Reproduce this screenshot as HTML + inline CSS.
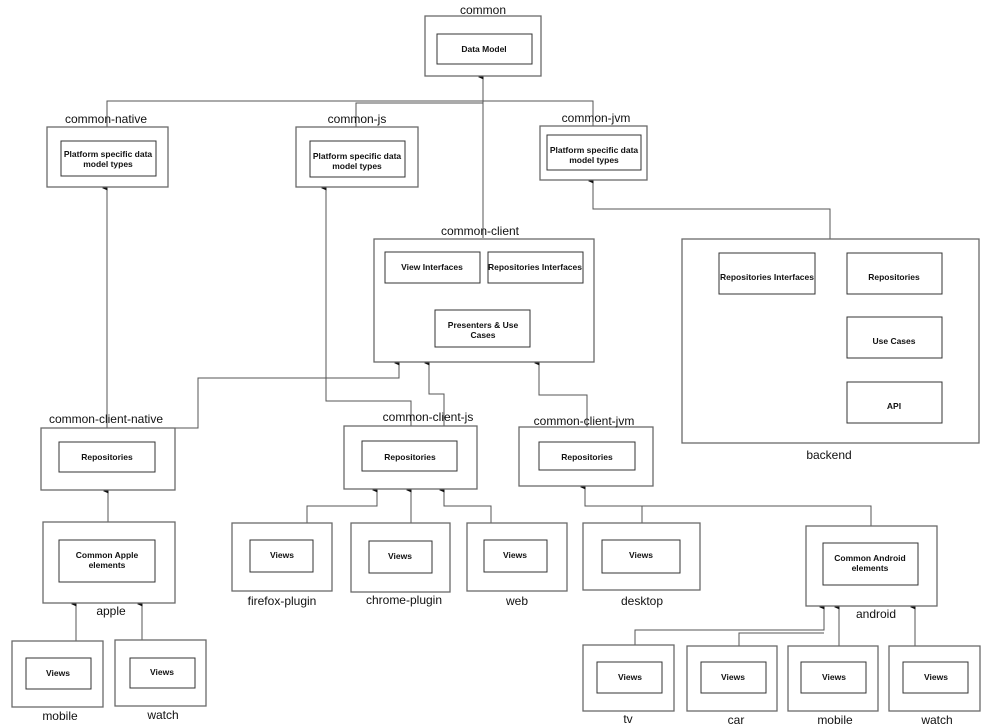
<!DOCTYPE html>
<html><head><meta charset="utf-8"><style>
html,body{margin:0;padding:0;background:#fff;}
svg{display:block;font-family:"Liberation Sans",sans-serif;}
.o{fill:#fff;stroke:#6a6a6a;stroke-width:1.3}
.i{fill:#fff;stroke:#333;stroke-width:1}
.l{fill:none;stroke:#555;stroke-width:1}
.t{font-size:12px;fill:#111;text-anchor:middle}
.b{font-size:8.5px;font-weight:bold;fill:#111;text-anchor:middle}
</style></head><body>
<svg width="1000" height="728" viewBox="0 0 1000 728">
<defs><marker id="a" markerWidth="6" markerHeight="6" refX="3" refY="5" orient="auto-start-reverse" viewBox="0 0 6 6"><path d="M0.5,5.5 L3,0 L5.5,5.5 Z" fill="#111"/></marker>
<marker id="r" markerWidth="6" markerHeight="6" refX="5" refY="3" orient="auto" viewBox="0 0 6 6"><path d="M0,0.5 L6,3 L0,5.5 Z" fill="#111"/></marker></defs>

<!-- connectors -->
<path class="l" d="M483,238 V77" marker-end="url(#a)"/>
<path class="l" d="M107,127 V101 H593 V126"/>
<path class="l" d="M356,127 V103 H483" stroke-width="1.6"/>
<path class="l" d="M107,428 V188" marker-end="url(#a)"/>
<path class="l" d="M411,426 V401 H326 V188" marker-end="url(#a)"/>
<path class="l" d="M830,239 V209 H593 V181" marker-end="url(#a)"/>
<path class="l" d="M175,428 H198 V378 H399 V363" marker-end="url(#a)"/>
<path class="l" d="M444,426 V394 H429 V363" marker-end="url(#a)"/>
<path class="l" d="M587,427 V395 H539 V363" marker-end="url(#a)"/>
<path class="l" d="M459,310 V298 H432 V284" marker-end="url(#a)"/>
<path class="l" d="M506,310 V298 H535 V284" marker-end="url(#a)"/>
<path class="l" d="M849,273 H816" marker-end="url(#r)"/>
<path class="l" d="M849,338 H767 V295" marker-end="url(#a)"/>
<path class="l" d="M896,382 V359" marker-end="url(#a)"/>
<path class="l" d="M108,522 V491" marker-end="url(#a)"/>
<path class="l" d="M76,641 V604" marker-end="url(#a)"/>
<path class="l" d="M142,640 V604" marker-end="url(#a)"/>
<path class="l" d="M307,523 V506 H377 V490" marker-end="url(#a)"/>
<path class="l" d="M411,523 V490" marker-end="url(#a)"/>
<path class="l" d="M491,523 V506 H444 V490" marker-end="url(#a)"/>
<path class="l" d="M642,523 V506 H585 V487" marker-end="url(#a)"/>
<path class="l" d="M871,526 V506 H642"/>
<path class="l" d="M635,645 V630 H824 V607" marker-end="url(#a)"/>
<path class="l" d="M739,646 V633 H824"/>
<path class="l" d="M839,646 V607" marker-end="url(#a)"/>
<path class="l" d="M915,646 V607" marker-end="url(#a)"/>

<!-- common -->
<rect class="o" x="425" y="16" width="116" height="60"/><rect class="i" x="437" y="34" width="95" height="30"/>
<text class="t" x="483" y="14">common</text><text class="b" x="484" y="52">Data Model</text>

<rect class="o" x="47" y="127" width="121" height="60"/><rect class="i" x="61" y="141" width="95" height="35"/>
<text class="t" x="106" y="123">common-native</text><text class="b" x="108" y="157">Platform specific data</text><text class="b" x="108" y="167">model types</text>

<rect class="o" x="296" y="127" width="122" height="60"/><rect class="i" x="310" y="141" width="95" height="36"/>
<text class="t" x="357" y="123">common-js</text><text class="b" x="357" y="159">Platform specific data</text><text class="b" x="357" y="169">model types</text>

<rect class="o" x="540" y="126" width="107" height="54"/><rect class="i" x="547" y="135" width="94" height="35"/>
<text class="t" x="596" y="122">common-jvm</text><text class="b" x="594" y="153">Platform specific data</text><text class="b" x="594" y="163">model types</text>

<!-- common-client -->
<rect class="o" x="374" y="239" width="220" height="123"/>
<text class="t" x="480" y="235">common-client</text>
<rect class="i" x="385" y="252" width="95" height="31"/><text class="b" x="432" y="270">View Interfaces</text>
<rect class="i" x="488" y="252" width="95" height="31"/><text class="b" x="535" y="270">Repositories Interfaces</text>
<rect class="i" x="435" y="310" width="95" height="37"/><text class="b" x="483" y="328">Presenters &amp; Use</text><text class="b" x="483" y="338">Cases</text>

<!-- backend -->
<rect class="o" x="682" y="239" width="297" height="204"/>
<text class="t" x="829" y="459">backend</text>
<rect class="i" x="719" y="253" width="96" height="41"/><text class="b" x="767" y="280">Repositories Interfaces</text>
<rect class="i" x="847" y="253" width="95" height="41"/><text class="b" x="894" y="280">Repositories</text>
<rect class="i" x="847" y="317" width="95" height="41"/><text class="b" x="894" y="344">Use Cases</text>
<rect class="i" x="847" y="382" width="95" height="41"/><text class="b" x="894" y="409">API</text>

<!-- client modules -->
<rect class="o" x="41" y="428" width="134" height="62"/><rect class="i" x="59" y="442" width="96" height="30"/>
<text class="t" x="106" y="423">common-client-native</text><text class="b" x="107" y="460">Repositories</text>

<rect class="o" x="344" y="426" width="133" height="63"/><rect class="i" x="362" y="441" width="95" height="30"/>
<text class="t" x="428" y="421">common-client-js</text><text class="b" x="410" y="460">Repositories</text>

<rect class="o" x="519" y="427" width="134" height="59"/><rect class="i" x="539" y="442" width="96" height="28"/>
<text class="t" x="584" y="425">common-client-jvm</text><text class="b" x="587" y="460">Repositories</text>

<!-- apple -->
<rect class="o" x="43" y="522" width="132" height="81"/><rect class="i" x="59" y="540" width="96" height="42"/>
<text class="t" x="111" y="615">apple</text><text class="b" x="107" y="558">Common Apple</text><text class="b" x="107" y="568">elements</text>
<rect class="o" x="12" y="641" width="91" height="66"/><rect class="i" x="26" y="658" width="65" height="31"/>
<text class="t" x="60" y="720">mobile</text><text class="b" x="58" y="676">Views</text>
<rect class="o" x="115" y="640" width="91" height="66"/><rect class="i" x="130" y="658" width="65" height="30"/>
<text class="t" x="163" y="719">watch</text><text class="b" x="162" y="675">Views</text>

<!-- js -->
<rect class="o" x="232" y="523" width="100" height="68"/><rect class="i" x="250" y="540" width="63" height="32"/>
<text class="t" x="282" y="605">firefox-plugin</text><text class="b" x="282" y="558">Views</text>
<rect class="o" x="351" y="523" width="99" height="69"/><rect class="i" x="369" y="541" width="63" height="32"/>
<text class="t" x="404" y="604">chrome-plugin</text><text class="b" x="400" y="559">Views</text>
<rect class="o" x="467" y="523" width="100" height="68"/><rect class="i" x="484" y="540" width="63" height="32"/>
<text class="t" x="517" y="605">web</text><text class="b" x="515" y="558">Views</text>

<!-- jvm -->
<rect class="o" x="583" y="523" width="117" height="67"/><rect class="i" x="602" y="540" width="78" height="33"/>
<text class="t" x="642" y="605">desktop</text><text class="b" x="641" y="558">Views</text>
<rect class="o" x="806" y="526" width="131" height="80"/><rect class="i" x="823" y="543" width="95" height="42"/>
<text class="t" x="876" y="618">android</text><text class="b" x="870" y="561">Common Android</text><text class="b" x="870" y="571">elements</text>

<rect class="o" x="583" y="645" width="91" height="66"/><rect class="i" x="597" y="662" width="65" height="31"/>
<text class="t" x="628" y="723">tv</text><text class="b" x="630" y="680">Views</text>
<rect class="o" x="687" y="646" width="90" height="65"/><rect class="i" x="701" y="662" width="65" height="31"/>
<text class="t" x="736" y="724">car</text><text class="b" x="733" y="680">Views</text>
<rect class="o" x="788" y="646" width="90" height="65"/><rect class="i" x="801" y="662" width="65" height="31"/>
<text class="t" x="835" y="724">mobile</text><text class="b" x="834" y="680">Views</text>
<rect class="o" x="889" y="646" width="91" height="65"/><rect class="i" x="903" y="662" width="65" height="31"/>
<text class="t" x="937" y="724">watch</text><text class="b" x="936" y="680">Views</text>
</svg>
</body></html>
